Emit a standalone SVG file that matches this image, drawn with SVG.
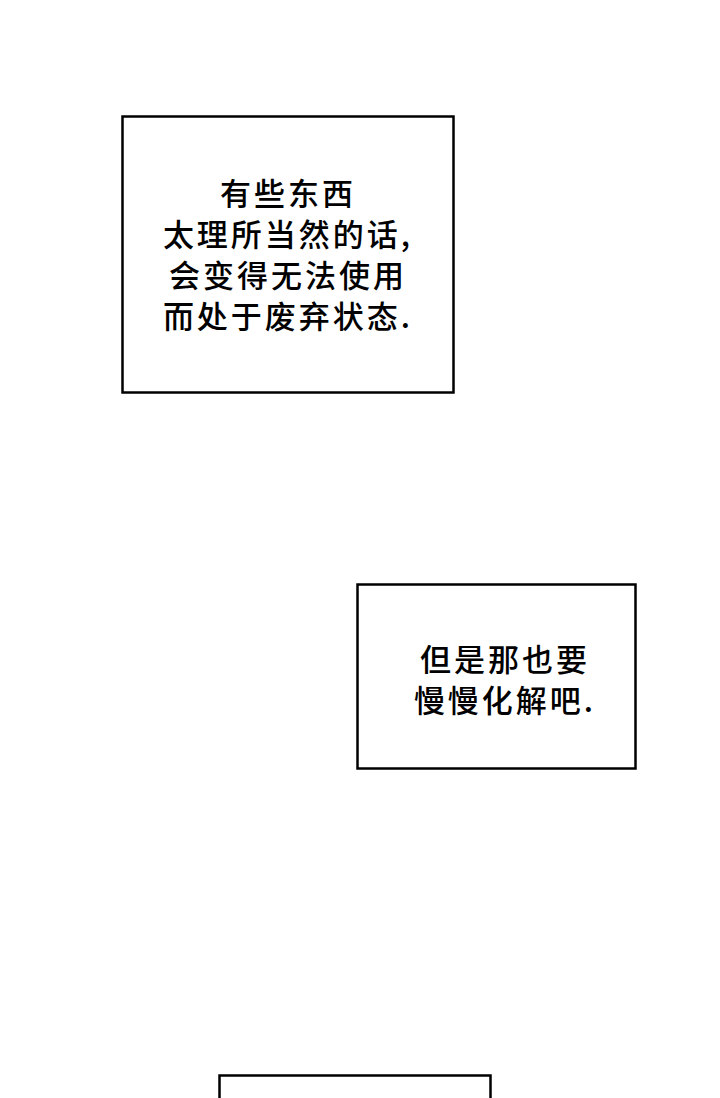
<svg xmlns="http://www.w3.org/2000/svg" width="720" height="1098" viewBox="0 0 720 1098">
<style>
.box{fill:#fff;stroke:#000;stroke-width:2.5}
.t{font-family:"Noto Sans CJK SC","Noto Sans",sans-serif;font-size:31px;letter-spacing:3px;font-weight:500;fill:#000;text-anchor:middle}
</style>
<rect width="720" height="1098" fill="#fff"/>
<g id="box1">
<rect class="box" x="122.5" y="116.5" width="331" height="276"/>
<text class="t" x="288" y="205">有些东西</text>
<text class="t" x="288" y="246">太理所当然的话,</text>
<text class="t" x="288" y="287">会变得无法使用</text>
<text class="t" x="288" y="328">而处于废弃状态.</text>
</g>
<g id="box2">
<rect class="box" x="357.5" y="584.5" width="278" height="184"/>
<text class="t" x="505" y="671">但是那也要</text>
<text class="t" x="505" y="712">慢慢化解吧.</text>
</g>
<g id="box3">
<rect class="box" x="219.5" y="1075.5" width="271" height="40"/>
</g>
<g id="connectors"></g>
</svg>
